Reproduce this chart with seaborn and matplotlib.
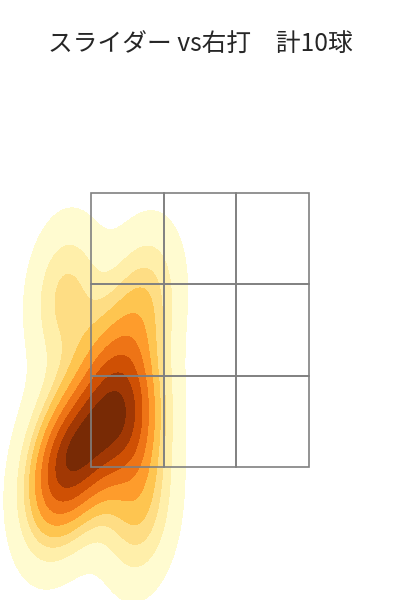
import matplotlib
matplotlib.use("Agg")
import matplotlib.pyplot as plt
from matplotlib.patches import Rectangle
import numpy as np
import pandas as pd
import seaborn as sns

sns.set_style("white")
plt.rcParams["font.family"] = ["Noto Sans CJK JP", "DejaVu Sans"]

# pitch locations (plate_x, plate_z)
plate_x = [-1.24, -0.50, -1.38, -0.55, -1.28, -1.10, -0.69, -0.57, -0.96, -0.83]
plate_z = [3.07, 3.04, 1.25, 1.06, 1.56, 1.66, 2.02, 1.88, 1.75, 2.43]

title = "スライダー vs右打\u3000計10球"

# strike zone (3x3 grid)
zone_left, zone_right = -1.0, 1.0
zone_bottom, zone_top = 1.5, 4.0

df = pd.DataFrame({"plate_x": plate_x, "plate_z": plate_z})

fig = plt.figure(figsize=(4, 6), dpi=100)
ax = fig.add_axes([0, 0, 1, 1])

sns.kdeplot(data=df, x="plate_x", y="plate_z", fill=True, cmap="YlOrBr",
            levels=10, thresh=0.05, ax=ax)

cw = (zone_right - zone_left) / 3
ch = (zone_top - zone_bottom) / 3
for i in range(3):
    for j in range(3):
        ax.add_patch(Rectangle((zone_left + i * cw, zone_bottom + j * ch), cw, ch,
                               fill=False, edgecolor="gray", linewidth=1.2, zorder=5))

ax.set_xlim(-1.835, 1.835)
ax.set_ylim(0.286, 5.76)
ax.axis("off")

fig.text(0.5, 1 - 45 / 600, title, ha="center", va="center", fontsize=17.8)

fig.savefig("out.png", dpi=100, facecolor="white")
